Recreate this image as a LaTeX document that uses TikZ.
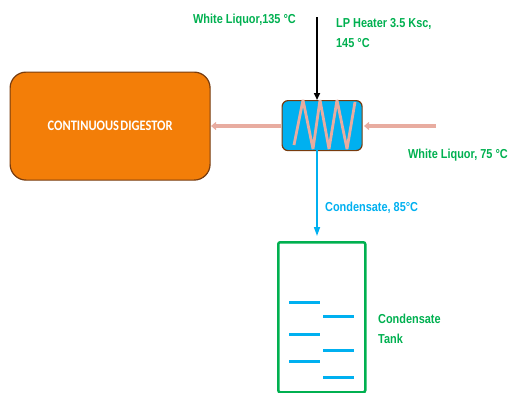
\documentclass[tikz,border=0pt]{standalone}
\usepackage{fontspec}
\setmainfont{Liberation Sans}
\newfontfamily\carl{Carlito}
\definecolor{lgreen}{RGB}{0,176,80}
\definecolor{lblue}{RGB}{0,176,240}
\definecolor{lpink}{RGB}{232,172,160}
\definecolor{lorange}{RGB}{243,126,8}
\definecolor{lbrown}{RGB}{120,60,15}
\usetikzlibrary{arrows.meta}
\tikzset{
 lbl/.style={font=\bfseries\fontsize{13}{20}\selectfont,text=lgreen,align=left,inner sep=0pt,anchor=west,xscale=0.84},
 vessel/.style={draw=lbrown,line width=1.2pt,rounded corners=#1},
 tankbar/.style={fill=lblue,draw=none},
 coil/.style={draw=lpink,line width=2.8pt,line join=bevel},
 pinkarrow/.style={draw=lpink,line width=3.2pt,-{Triangle[length=5pt,width=8pt,fill=lpink]}},
 thinarrow/.style={line width=1.6pt,-{Triangle[length=7pt,width=6pt]}},
}
\begin{document}
\begin{tikzpicture}[x=1pt,y=-1pt]
\useasboundingbox (0,0) rectangle (510,392);
\node[vessel=16pt,fill=lorange,minimum width=200pt,minimum height=108pt,inner sep=0pt,anchor=north west,
 text=white,font=\carl\bfseries\fontsize{14.5}{16}\selectfont] (dig) at (9.5,71.5) {\scalebox{0.86}[1]{CONTINUOUS\kern1.5pt DIGESTOR}};
\node[vessel=6pt,fill=lblue,minimum width=80pt,minimum height=50pt,inner sep=0pt,anchor=north west] (hx) at (281.5,100) {};
\coordinate (c1) at (294,145);\coordinate (c2) at (303,100);\coordinate (c3) at (313,149);\coordinate (c4) at (320,100);
\coordinate (c5) at (329,149);\coordinate (c6) at (337,100);\coordinate (c7) at (347,149);\coordinate (c8) at (355,102);
\draw[coil] (c1)--(c2)--(c3)--(c4)--(c5)--(c6)--(c7)--(c8);
\node[draw=lgreen,line width=2.5pt,rounded corners=2pt,minimum width=87pt,minimum height=150pt,inner sep=0pt,anchor=north west] (tank) at (277,241) {};
\coordinate (lpin) at (317,17);
\coordinate (wlin) at (436,126);
\coordinate (hxe) at (364,126);\coordinate (hxw) at (281,126);\coordinate (digE) at (211,126);
\coordinate (hxt) at (317,100);\coordinate (hxb) at (317,150);\coordinate (tk) at (317,236);
\draw[thinarrow,black] (lpin)--(hxt);
\draw[pinkarrow] (wlin)--(hxe);
\draw[pinkarrow] (hxw)--(digE);
\draw[thinarrow,lblue,-{Triangle[length=9pt,width=6pt]}] (hxb)--(tk);
\foreach \xa/\xb/\ya in {289/320/302,323/354/316,289/320/334,323/354/350,289/320/361,323/354/377}
 \fill[tankbar] (\xa,\ya-1.5) rectangle (\xb,\ya+1.5);
\node[lbl] (t1) at (193,20) {White Liquor,135 °C};
\node[lbl,anchor=north west] (t2) at (336,18) {LP Heater 3.5 Ksc,\\145 °C};
\node[lbl] (t3) at (408,155) {White Liquor, 75 °C};
\node[lbl,text=lblue] (t4) at (325,207.5) {Condensate, 85°C};
\node[lbl,anchor=north west] (t5) at (378,314) {Condensate\\Tank};
\end{tikzpicture}
\end{document}
